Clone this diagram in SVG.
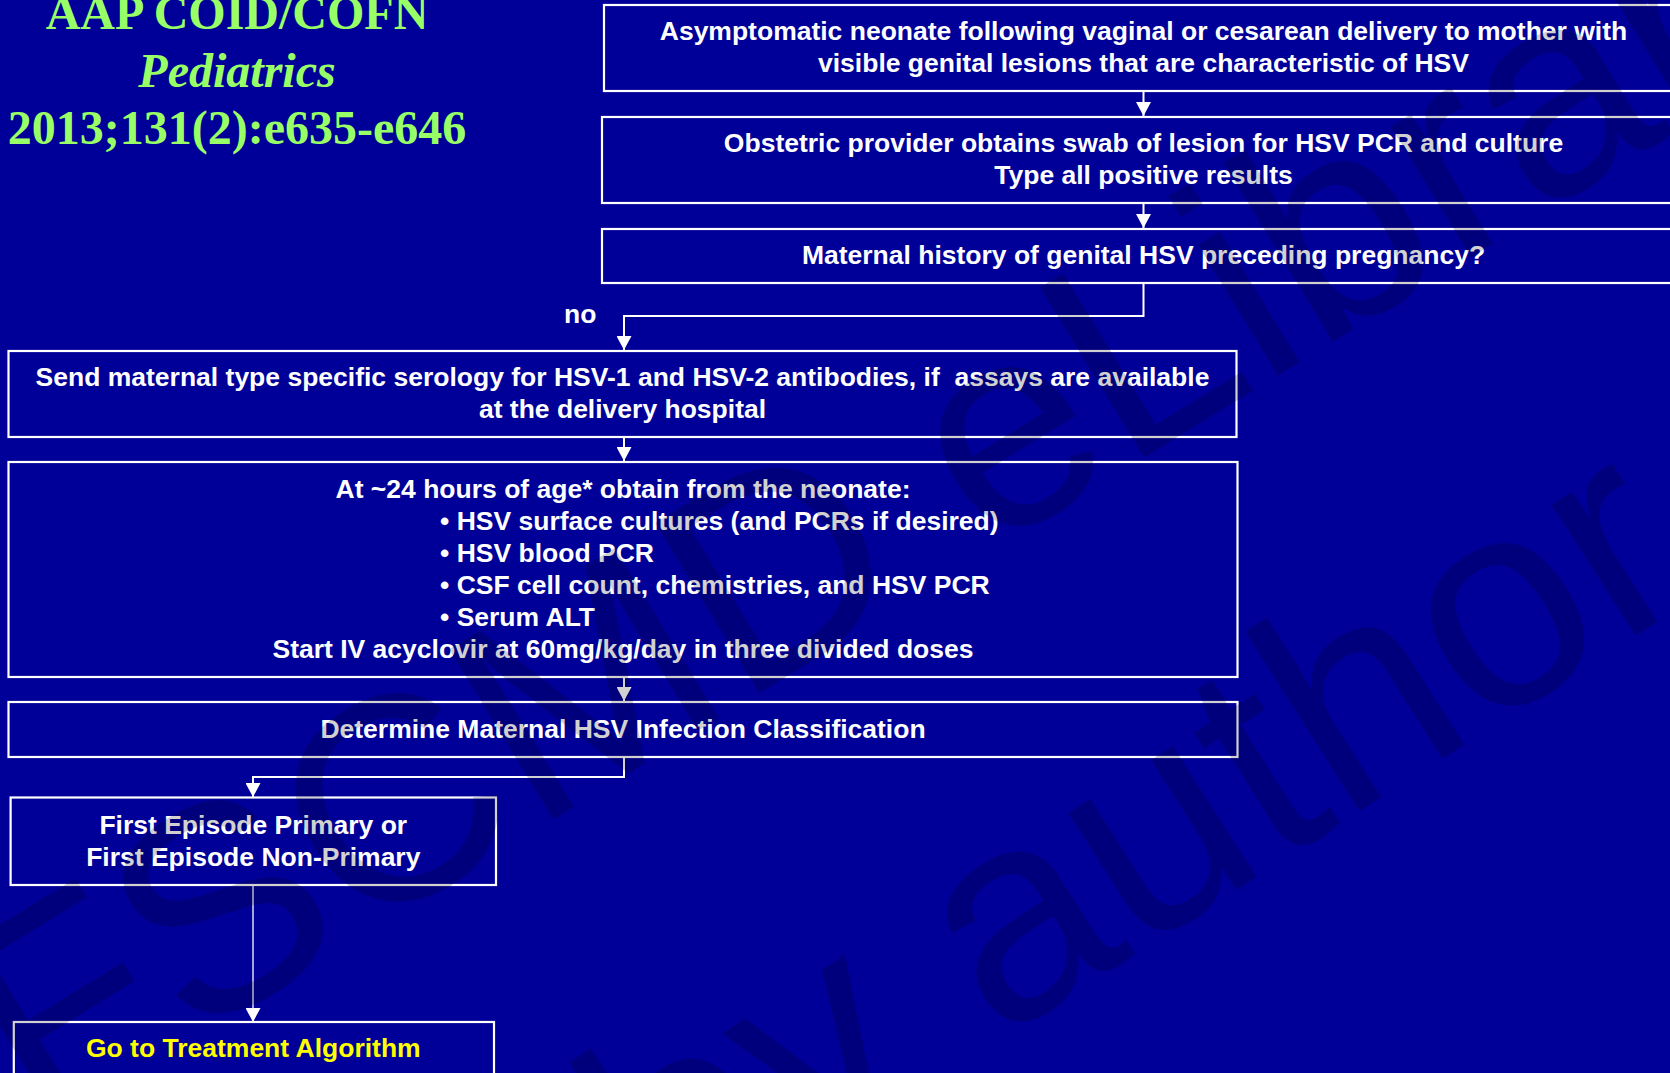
<svg xmlns="http://www.w3.org/2000/svg" width="1670" height="1073" viewBox="0 0 1670 1073">
<style>
.bg{fill:#000099}
.box{fill:#000099;stroke:#ffffff;stroke-width:2.2}
.t{font-family:"Liberation Sans",Arial,sans-serif;font-weight:bold;font-size:26.5px;fill:#ffffff;text-anchor:middle}
.tl{text-anchor:start}
.yel{fill:#ffff00}
.title{font-family:"Liberation Serif","Times New Roman",serif;font-weight:bold;font-size:48px;fill:#99ff66;text-anchor:middle}
.conn{fill:none;stroke:#ffffff;stroke-width:2}
.thin{stroke-width:1.3}
.wm{font-family:"Liberation Sans",Arial,sans-serif;fill:#000000;fill-opacity:0.18}
</style>
<defs>
<marker id="ah" viewBox="0 0 14 15" refX="14" refY="7.5" markerWidth="14" markerHeight="15" markerUnits="userSpaceOnUse" orient="auto">
<path d="M0,0 L14,7.5 L0,15 z" fill="#ffffff"/>
</marker>
</defs>
<rect class="bg" x="0" y="0" width="1670" height="1073"/>

<g id="title">
<text class="title" x="237" y="29">AAP COID/COFN</text>
<text class="title" x="237" y="87" font-style="italic">Pediatrics</text>
<text class="title" x="237" y="144">2013;131(2):e635-e646</text>
</g>

<g id="connectors">
<path class="conn" d="M1143.5,91 V116" marker-end="url(#ah)"/>
<path class="conn" d="M1143.5,203 V228" marker-end="url(#ah)"/>
<path class="conn" d="M1143.5,283 V316 H624 V350" marker-end="url(#ah)"/>
<path class="conn" d="M624,437 V461" marker-end="url(#ah)"/>
<path class="conn" d="M624,677 V701" marker-end="url(#ah)"/>
<path class="conn" d="M624,757 V777 H253 V797" marker-end="url(#ah)"/>
<path class="conn thin" d="M253,885 V1022" marker-end="url(#ah)"/>
<text class="t tl" x="564" y="323">no</text>
</g>

<g id="n1">
<rect class="box" x="604" y="5" width="1080" height="86"/>
<text class="t" x="1143.5" y="40">Asymptomatic neonate following vaginal or cesarean delivery to mother with</text>
<text class="t" x="1143.5" y="72">visible genital lesions that are characteristic of HSV</text>
</g>

<g id="n2">
<rect class="box" x="602" y="117" width="1082" height="86"/>
<text class="t" x="1143.5" y="152">Obstetric provider obtains swab of lesion for HSV PCR and culture</text>
<text class="t" x="1143.5" y="184">Type all positive results</text>
</g>

<g id="n3">
<rect class="box" x="602" y="229" width="1082" height="54"/>
<text class="t" x="1143.5" y="264">Maternal history of genital HSV preceding pregnancy?</text>
</g>

<g id="n4">
<rect class="box" x="8.5" y="351" width="1228" height="86"/>
<text class="t" x="622.5" y="386">Send maternal type specific serology for HSV-1 and HSV-2 antibodies, if&#160; assays are available</text>
<text class="t" x="622.5" y="418">at the delivery hospital</text>
</g>

<g id="n5">
<rect class="box" x="8.5" y="462" width="1229" height="215"/>
<text class="t" x="623" y="498">At ~24 hours of age* obtain from the neonate:</text>
<text class="t tl" x="440" y="530">• HSV surface cultures (and PCRs if desired)</text>
<text class="t tl" x="440" y="562">• HSV blood PCR</text>
<text class="t tl" x="440" y="594">• CSF cell count, chemistries, and HSV PCR</text>
<text class="t tl" x="440" y="626">• Serum ALT</text>
<text class="t" x="623" y="658">Start IV acyclovir at 60mg/kg/day in three divided doses</text>
</g>

<g id="n6">
<rect class="box" x="8.5" y="702" width="1229" height="55"/>
<text class="t" x="623" y="738">Determine Maternal HSV Infection Classification</text>
</g>

<g id="n7">
<rect class="box" x="10.6" y="797.5" width="485.4" height="87.5"/>
<text class="t" x="253.3" y="834">First Episode Primary or</text>
<text class="t" x="253.3" y="866">First Episode Non-Primary</text>
</g>

<g id="n8">
<rect class="box" x="13.8" y="1022" width="480.2" height="80"/>
<text class="t yel" x="253.3" y="1057">Go to Treatment Algorithm</text>
</g>

<g id="watermark">
<text class="wm" font-size="290" x="38.7" y="1134.9" transform="rotate(-31.5 38.7 1134.9)">FSCMD eLibrary</text>
<text class="wm" font-size="294" x="667" y="1252.5" transform="rotate(-32.5 667 1252.5)">by author</text>
</g>
</svg>
